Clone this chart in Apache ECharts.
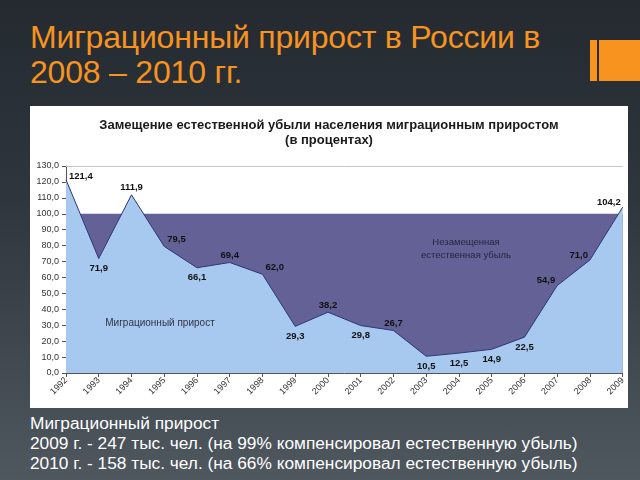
<!DOCTYPE html>
<html>
<head>
<meta charset="utf-8">
<script src="https://cdn.jsdelivr.net/npm/echarts@6/dist/echarts.min.js"></script>
<style>
  html, body { margin: 0; padding: 0; }
  body {
    width: 640px; height: 480px; overflow: hidden; position: relative;
    background: linear-gradient(180deg, #242a30 0%, #2e353c 40%, #4f575f 100%);
    font-family: "Liberation Sans", Arial, sans-serif;
  }
  .slide-title {
    position: absolute; left: 30px; top: 20px;
    color: #f7931e; font-size: 32px; line-height: 35px;
    letter-spacing: -0.2px;
  }
  .bar-small { position: absolute; left: 590px; top: 40px; width: 7px; height: 41px; background: #f7931e; }
  .bar-big { position: absolute; left: 599px; top: 40px; width: 41px; height: 41px; background: #f7931e; }
  .panel {
    position: absolute; left: 30px; top: 106px; width: 598px; height: 302px;
    background: #ffffff;
  }
  .notes {
    position: absolute; left: 30px; top: 413px;
    color: #ffffff; font-size: 17.3px; line-height: 20px;
  }
</style>
</head>
<body>
<div class="slide-title">Миграционный прирост в России в<br>2008 – 2010 гг.</div>
<div class="bar-small"></div>
<div class="bar-big"></div>
<div class="panel" id="chart"></div>
<div class="notes">
  Миграционный прирост<br>
  2009 г. - 247 тыс. чел. (на 99% компенсировал естественную убыль)<br>
  2010 г. - 158 тыс. чел. (на 66% компенсировал естественную убыль)
</div>
<script>
// data
const years = ['1992', '1993', '1994', '1995', '1996', '1997', '1998', '1999', '2000',
  '2001', '2002', '2003', '2004', '2005', '2006', '2007', '2008', '2009'];
const migrationShare = [121.4, 71.9, 111.9, 79.5, 66.1, 69.4, 62.0, 29.3, 38.2,
  29.8, 26.7, 10.5, 12.5, 14.9, 22.5, 54.9, 71.0, 104.2];
const fullReplacement = 100;
const yTicks = { min: 0, max: 130, interval: 10 };

// where each value label sits relative to its point
const labelPlace = ['right', 'bottom', 'top', 'right', 'bottom', 'top', 'right', 'bottom', 'top',
  'bottom', 'top', 'bottom', 'bottom', 'bottom', 'bottom', 'left', 'left', 'left'];

const fmt = v => Number(v).toFixed(1).replace('.', ',');
const FONT = '"Liberation Sans", Arial, sans-serif';

const chart = echarts.init(document.getElementById('chart'));

const seriesData = migrationShare.map((v, i) => {
  const pos = labelPlace[i];
  let offset = [0, 0];
  if (pos === 'right') offset = [-2, i === 0 ? -3 : -7];
  if (pos === 'left') offset = [3, -5];
  if (pos === 'top') offset = [0, 3];
  return { value: v, label: { position: pos, offset: offset } };
});

chart.setOption({
  animation: false,
  backgroundColor: '#ffffff',
  title: {
    text: 'Замещение естественной убыли населения миграционным приростом\n(в процентах)',
    left: 'center',
    top: 7,
    textStyle: {
      fontFamily: FONT,
      fontSize: 13,
      fontWeight: 'bold',
      color: '#1a1a1a',
      lineHeight: 15
    }
  },
  grid: { left: 36, right: 5, top: 60, bottom: 35 },
  xAxis: [
    {
      type: 'category',
      data: years,
      boundaryGap: false,
      axisLine: { lineStyle: { color: '#555555', width: 1 } },
      axisTick: { show: true, alignWithLabel: true, length: 4, lineStyle: { color: '#555555' } },
      axisLabel: { rotate: 45, fontSize: 9, color: '#333333', margin: 6, fontFamily: FONT },
      splitLine: { show: false }
    },
    {
      type: 'category',
      data: years,
      position: 'top',
      boundaryGap: false,
      axisLine: { lineStyle: { color: '#c8c8c8', width: 1 } },
      axisTick: { show: false },
      axisLabel: { show: false }
    }
  ],
  yAxis: {
    type: 'value',
    min: yTicks.min,
    max: yTicks.max,
    interval: yTicks.interval,
    axisLine: { show: true, lineStyle: { color: '#555555' } },
    axisTick: { show: true, length: 4, lineStyle: { color: '#555555' } },
    axisLabel: { fontSize: 9, color: '#333333', margin: 7, fontFamily: FONT, formatter: fmt },
    splitLine: { show: false }
  },
  series: [
    {
      // unreplaced natural decrease: everything up to 100%
      type: 'line',
      z: 1,
      data: [],
      markArea: {
        silent: true,
        itemStyle: { color: '#636196', opacity: 1 },
        data: [[
          { xAxis: years[0], yAxis: 0 },
          { xAxis: years[years.length - 1], yAxis: fullReplacement }
        ]]
      }
    },
    {
      name: 'Миграционный прирост',
      type: 'line',
      z: 2,
      data: seriesData,
      symbol: 'circle',
      symbolSize: 0.01,
      showSymbol: true,
      itemStyle: { color: '#2e3678' },
      lineStyle: { color: '#2e3678', width: 1 },
      areaStyle: { color: '#a7c9ef', opacity: 1 },
      label: {
        show: true,
        fontSize: 9.5,
        fontWeight: 'bold',
        color: '#111111',
        distance: 5,
        fontFamily: FONT,
        formatter: p => fmt(p.value)
      }
    }
  ],
  graphic: [
    {
      type: 'text', z: 20,
      style: {
        x: 130, y: 217, text: 'Миграционный прирост', fontSize: 10, fill: '#333344',
        align: 'center', verticalAlign: 'middle', fontFamily: FONT
      }
    },
    {
      type: 'text', z: 20,
      style: {
        x: 436, y: 143, text: 'Незамещенная\nестественная убыль', fontSize: 9.5, fill: '#262640',
        align: 'center', verticalAlign: 'middle', lineHeight: 13, fontFamily: FONT
      }
    }
  ]
});
</script>
</body>
</html>
